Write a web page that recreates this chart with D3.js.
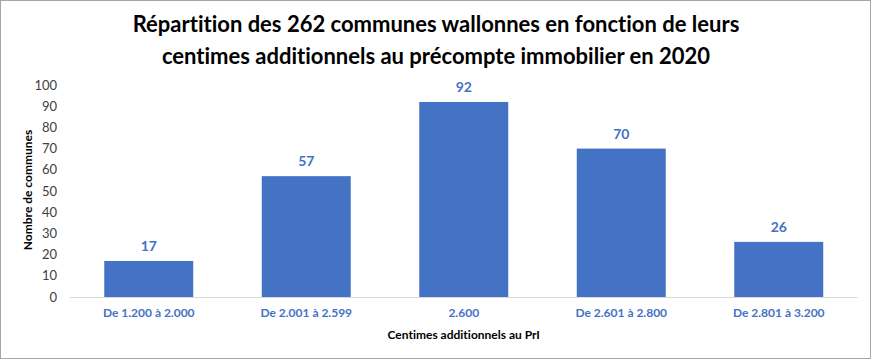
<!DOCTYPE html>
<html>
<head>
<meta charset="utf-8">
<script src="https://cdn.jsdelivr.net/npm/d3@7"></script>
<style>
  body { margin: 0; background: #fff; }
  svg { display: block; font-family: Lato, "Open Sans", sans-serif; font-variant-ligatures: none; }
</style>
</head>
<body>
<svg id="chart" width="872" height="360"></svg>
<script>
// data
var categories = ['De 1.200 à 2.000', 'De 2.001 à 2.599', '2.600', 'De 2.601 à 2.800', 'De 2.801 à 3.200'];
var values = [17, 57, 92, 70, 26];
var yTicks = [0, 10, 20, 30, 40, 50, 60, 70, 80, 90, 100];

var blue = '#4472C4';
var svg = d3.select('#chart');

// outer frame
svg.append('rect')
  .attr('x', 0.5).attr('y', 0.5)
  .attr('width', 870).attr('height', 358)
  .attr('fill', '#fff')
  .attr('stroke', '#a6a6a6');

var plotLeft = 70, plotRight = 857.5, plotTop = 85, plotBottom = 297;

var x = d3.scaleBand()
  .domain(categories)
  .range([plotLeft, plotRight])
  .paddingInner(0.435)
  .paddingOuter(0.2175);

var y = d3.scaleLinear()
  .domain([0, 100])
  .range([plotBottom, plotTop]);

// title
var title = svg.append('text')
  .attr('text-anchor', 'middle')
  .attr('font-weight', 'bold')
  .attr('font-size', 22)
  .attr('fill', '#000');
title.append('tspan').attr('x', 436).attr('y', 32)
  .text('Répartition des 262 communes wallonnes en fonction de leurs');
title.append('tspan').attr('x', 436).attr('y', 64)
  .text('centimes additionnels au précompte immobilier en 2020');

// y axis labels (no line, no ticks)
var yAxis = svg.append('g')
  .attr('transform', 'translate(' + (plotLeft - 13) + ',0)')
  .call(d3.axisLeft(y).tickValues(yTicks).tickSize(0).tickPadding(0));
yAxis.select('.domain').remove();
yAxis.selectAll('text')
  .attr('font-family', 'Lato, "Open Sans", sans-serif')
  .attr('font-size', 13)
  .attr('fill', '#404040');

// bars
svg.selectAll('rect.bar')
  .data(values)
  .enter().append('rect')
  .attr('class', 'bar')
  .attr('x', function(d, i) { return x(categories[i]); })
  .attr('y', function(d) { return y(d); })
  .attr('width', x.bandwidth())
  .attr('height', function(d) { return y(0) - y(d); })
  .attr('fill', blue);

// baseline
svg.append('line')
  .attr('x1', plotLeft).attr('x2', plotRight)
  .attr('y1', y(0) + 0.5).attr('y2', y(0) + 0.5)
  .attr('stroke', '#d9d9d9');

// value labels
svg.selectAll('text.val')
  .data(values)
  .enter().append('text')
  .attr('class', 'val')
  .attr('x', function(d, i) { return x(categories[i]) + x.bandwidth() / 2; })
  .attr('y', function(d) { return y(d) - 10; })
  .attr('text-anchor', 'middle')
  .attr('font-weight', 'bold')
  .attr('font-size', 14)
  .attr('fill', blue)
  .text(function(d) { return d; });

// x axis labels
var xAxis = svg.append('g')
  .attr('transform', 'translate(0,' + (y(0) + 11) + ')')
  .call(d3.axisBottom(x).tickSize(0).tickPadding(0));
xAxis.select('.domain').remove();
xAxis.selectAll('text')
  .attr('font-family', 'Lato, "Open Sans", sans-serif')
  .attr('font-weight', 'bold')
  .attr('font-size', 12)
  .attr('fill', blue);

// axis titles
svg.append('text')
  .attr('x', (plotLeft + plotRight) / 2).attr('y', 339)
  .attr('text-anchor', 'middle')
  .attr('font-weight', 'bold')
  .attr('font-size', 12)
  .attr('fill', '#000')
  .text('Centimes additionnels  au PrI');

svg.append('text')
  .attr('transform', 'translate(32,190) rotate(-90)')
  .attr('text-anchor', 'middle')
  .attr('font-weight', 'bold')
  .attr('font-size', 12)
  .attr('fill', '#000')
  .text('Nombre de communes');
</script>
</body>
</html>
